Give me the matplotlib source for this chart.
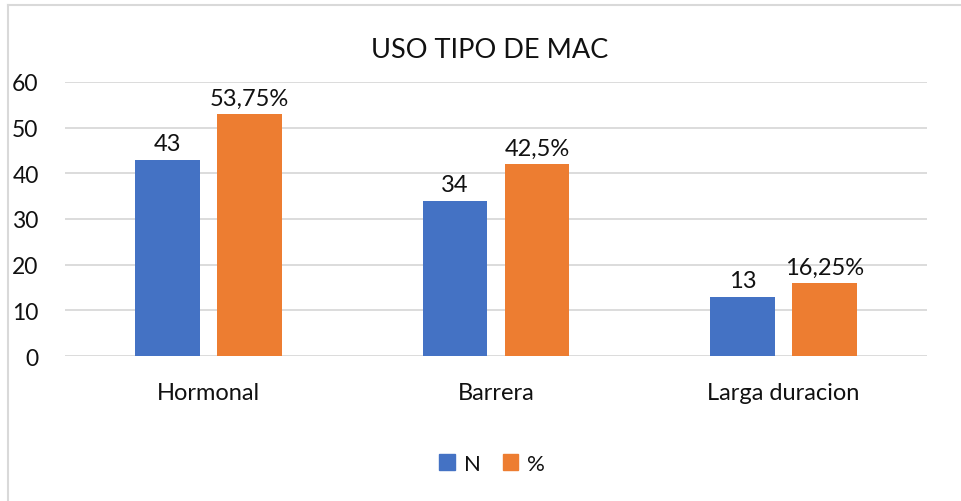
import matplotlib.pyplot as plt
import numpy as np
from matplotlib.patches import Patch
from matplotlib.lines import Line2D

plt.rcParams['font.family'] = ['Lato', 'DejaVu Sans']

# data
categories = ["Hormonal", "Barrera", "Larga duracion"]
n_values = [43, 34, 13]
pct_values = [53, 42, 16]
n_labels = ["43", "34", "13"]
pct_labels = ["53,75%", "42,5%", "16,25%"]
series_names = ["N", "%"]

blue = "#4472C4"
orange = "#ED7D31"
text_color = "#111111"

fig = plt.figure(figsize=(9.62, 5.02), dpi=100)
ax = fig.add_axes([65 / 962, 1 - 357 / 502, (927 - 65) / 962, (357 - 83) / 502])

x = np.arange(len(categories))
width = 0.226
offset = 0.1427
bars_n = ax.bar(x - offset, n_values, width, color=blue, zorder=3)
bars_p = ax.bar(x + offset, pct_values, width, color=orange, zorder=3)

for bars, labels in [(bars_n, n_labels), (bars_p, pct_labels)]:
    for b, lab in zip(bars, labels):
        ax.annotate(lab, (b.get_x() + b.get_width() / 2, b.get_height()),
                    xytext=(0, 4), textcoords="offset points",
                    ha="center", va="bottom", fontsize=17, color=text_color)

ax.set_xlim(-0.5, 2.5)
ax.set_ylim(0, 60)
ax.set_yticks(range(0, 61, 10))
ax.set_xticks(x)
ax.set_xticklabels(categories)
ax.tick_params(axis="both", length=0, labelsize=16.5, colors=text_color)
ax.tick_params(axis="x", labelsize=17, pad=19)
ax.tick_params(axis="y", pad=19)
ax.grid(axis="y", color="#D9D9D9", linewidth=1.3, zorder=0)
for side in ["top", "right", "left", "bottom"]:
    ax.spines[side].set_visible(False)

fig.text(490 / 962, 1 - 50 / 502, "USO TIPO DE MAC", ha="center", va="center",
         fontsize=19.5, color=text_color)

handles = [Patch(color=blue), Patch(color=orange)]
fig.legend(handles, series_names, loc="center", bbox_to_anchor=(492 / 962, 1 - 465 / 502),
           ncol=2, frameon=False, fontsize=16, handlelength=0.7, handleheight=0.7,
           handletextpad=0.4, columnspacing=1.0, labelcolor=text_color)

# chart area border (left and top edges visible)
fig.add_artist(Line2D([8 / 962, 8 / 962], [0, 1 - 6 / 502], color="#D9D9D9", lw=1.5))
fig.add_artist(Line2D([8 / 962, 1], [1 - 6 / 502, 1 - 6 / 502], color="#D9D9D9", lw=1.5))

fig.savefig("out.png", dpi=100)
plt.close(fig)
